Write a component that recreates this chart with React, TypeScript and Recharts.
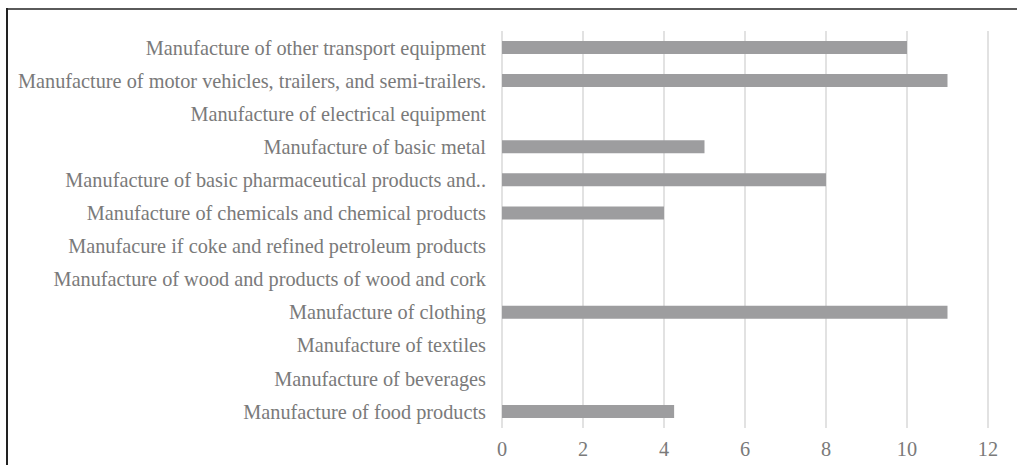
import { BarChart, Bar, XAxis, YAxis, CartesianGrid } from 'recharts';

const categories = [
  'Manufacture of other transport equipment',
  'Manufacture of motor vehicles, trailers, and semi-trailers.',
  'Manufacture of electrical equipment',
  'Manufacture of basic metal',
  'Manufacture of basic pharmaceutical products and..',
  'Manufacture of chemicals and chemical products',
  'Manufacure if coke and refined petroleum products',
  'Manufacture of wood and products of wood and cork',
  'Manufacture of clothing',
  'Manufacture of textiles',
  'Manufacture of beverages',
  'Manufacture of food products',
];

const values = [10, 11, 0, 5, 8, 4, 0, 0, 11, 0, 0, 4.25];

const xTicks = [0, 2, 4, 6, 8, 10, 12];

const data = categories.map((name, i) => ({ name, value: values[i] }));

const font = "'Liberation Serif', 'Times New Roman', serif";
const textColor = '#7a7a7a';

export default function App() {
  return (
    <div
      style={{
        position: 'absolute',
        left: 0,
        top: 0,
        width: 1017,
        height: 465,
        background: '#fff',
        overflow: 'hidden',
        fontFamily: font,
      }}
    >
      <div style={{ position: 'absolute', left: 6, top: 8, right: 0, height: 2, background: '#5a5a5a' }} />
      <div style={{ position: 'absolute', left: 6, top: 8, bottom: 0, width: 2, background: '#222' }} />
      <div style={{ position: 'absolute', left: 0, top: 0 }}>
        <BarChart
          width={1017}
          height={465}
          data={data}
          layout="vertical"
          margin={{ top: 31, right: 29, left: 0, bottom: 0 }}
          style={{ fontFamily: font }}
        >
          <CartesianGrid horizontal={false} stroke="#d9d9d9" strokeWidth={1.5} />
          <XAxis
            type="number"
            domain={[0, 12]}
            ticks={xTicks}
            height={37}
            axisLine={false}
            tickLine={false}
            tickSize={12}
            tickMargin={2}
            tick={{ fill: textColor, fontSize: 20.3, style: { fontFamily: font } }}
          />
          <YAxis
            type="category"
            dataKey="name"
            width={502}
            axisLine={false}
            tickLine={false}
            tickSize={14}
            tickMargin={2}
            interval={0}
            tick={{ fill: textColor, fontSize: 20.3, style: { fontFamily: font } }}
          />
          <Bar dataKey="value" fill="#9d9d9f" barSize={13} isAnimationActive={false} />
        </BarChart>
      </div>
    </div>
  );
}
